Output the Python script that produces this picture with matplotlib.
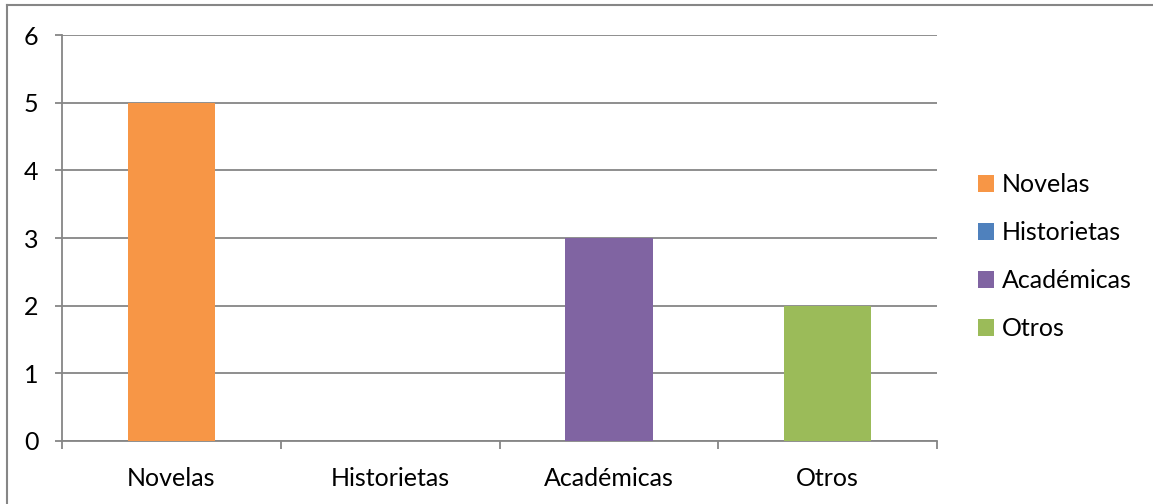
import matplotlib
matplotlib.use("Agg")
import matplotlib.pyplot as plt
from matplotlib.lines import Line2D
from matplotlib.patches import Patch

categories = ["Novelas", "Historietas", "Académicas", "Otros"]
values = [5, 0, 3, 2]
colors = ["#F79646", "#4F81BD", "#8064A2", "#9BBB59"]
yticks = [0, 1, 2, 3, 4, 5, 6]

plt.rcParams['font.family'] = ['Lato', 'DejaVu Sans']
W, H = 1153, 504
fig = plt.figure(figsize=(W/100, H/100), dpi=100)
ax = fig.add_axes([62/W, 1-441/H, (937-62)/W, (441-35)/H])

x = range(len(categories))
ax.bar(x, values, width=0.4, color=colors, zorder=3)
ax.set_xlim(-0.5, len(categories)-0.5)
ax.set_ylim(0, 6)
ax.set_yticks(yticks)
ax.set_yticklabels([str(t) for t in yticks], fontsize=18)
ax.set_xticks(list(x))
ax.set_xticklabels(categories, fontsize=18)
ax.tick_params(axis='x', length=0, pad=19)
ax.tick_params(axis='y', length=5, color='#868686', width=1.3, pad=12)
# category boundary ticks
ax.set_xticks([i - 0.5 for i in range(len(categories)+1)], minor=True)
ax.tick_params(axis='x', which='minor', length=6, color='#868686', width=1.3, direction='out')
ax.grid(axis='y', color='#868686', linewidth=1.3, zorder=0)
for s in ['top', 'right']:
    ax.spines[s].set_visible(False)
for s in ['left', 'bottom']:
    ax.spines[s].set_color('#868686')
    ax.spines[s].set_linewidth(1.3)

handles = [Patch(facecolor=c, label=l) for c, l in zip(colors, categories)]
fig.legend(handles=handles, loc='center left', bbox_to_anchor=(978/W, 1-257/H),
           frameon=False, fontsize=18, handlelength=0.65, handleheight=0.65,
           handletextpad=0.3, labelspacing=1.0, borderaxespad=0, borderpad=0)

# chart border (left and top visible)
fig.add_artist(Line2D([7/W, 7/W], [0, 1-5/H], color='#868686', linewidth=1.5))
fig.add_artist(Line2D([7/W, 1], [1-5/H, 1-5/H], color='#868686', linewidth=1.5))

fig.savefig("out.png", dpi=100)
